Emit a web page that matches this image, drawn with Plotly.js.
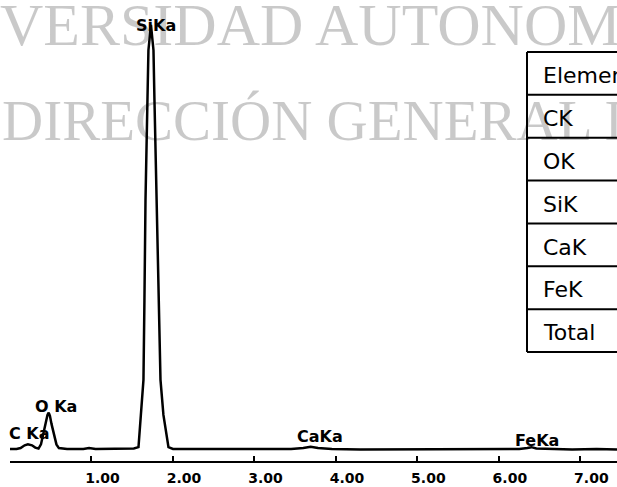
<!DOCTYPE html>
<html>
<head>
<meta charset="utf-8">
<script src="https://cdn.plot.ly/plotly-3.0.1.min.js"></script>
<style>html,body{margin:0;padding:0;background:#fff;}#chart{width:617px;height:487px;}</style>
</head>
<body>
<div id="chart"></div>
<script>
// Spectrum (energy in keV, relative counts)
const energy = [0.00, 0.08, 0.13, 0.18, 0.22, 0.27, 0.31, 0.35, 0.38, 0.41, 0.44, 0.46, 0.475, 0.49, 0.51, 0.54, 0.57, 0.60, 0.70, 0.90, 0.97, 1.05, 1.20, 1.40, 1.52, 1.577, 1.613, 1.638, 1.650, 1.663, 1.687, 1.699, 1.730, 1.761, 1.773, 1.798, 1.822, 1.847, 1.883, 1.945, 2.00, 2.30, 2.70, 3.10, 3.45, 3.60, 3.69, 3.78, 3.95, 4.30, 4.70, 5.10, 5.50, 5.90, 6.25, 6.35, 6.40, 6.46, 6.60, 6.90, 7.20, 7.45];
const counts = [26, 26, 28, 34, 36, 34, 29, 27, 36, 62, 88, 100, 105, 98, 80, 55, 36, 28, 26, 26, 28, 26, 26, 26, 27, 30, 110, 176, 349, 566, 783, 891, 946, 891, 783, 566, 349, 176, 100, 30, 26, 26, 26, 26, 26, 28, 31, 28, 26, 25, 25, 26, 25, 25, 26, 28, 30, 27, 26, 25, 26, 25];

// Peak labels
const peakLabels = ["C Ka", "O Ka", "SiKa", "CaKa", "FeKa"];
const peakEnergy = [0.24, 0.48, 1.73, 3.69, 6.40];
const peakLabelY = [433.5, 406.5, 25, 436.5, 440.5]; // pixel rows of labels

// Axis ticks
const tickVals = [1, 2, 3, 4, 5, 6, 7];
const tickText = ["1.00", "2.00", "3.00", "4.00", "5.00", "6.00", "7.00"];

// Results table (left column, visible part)
const tableRows = ["Element", "CK", "OK", "SiK", "CaK", "FeK", "Total"];

// Watermark
const watermark = ["VERSIDAD AUTONOM", "DIRECCIÓN GENERAL D"];

// ---- layout helpers (pixel -> paper) ----
const L = 10, T = 0, W = 607, H = 461;
const px = x => (x - L) / W;
const py = y => (T + H - y) / H;
const xr = [0, 7.45];

const annotations = [];
// watermark (translucent so black marks stay black)
const wmY = [25, 120];
const wmX = [-2, 0];
const wmSize = [60, 57];
watermark.forEach((t, i) => {
  annotations.push({xref: 'paper', yref: 'paper', x: px(wmX[i]), y: py(wmY[i]), xanchor: 'left', yanchor: 'middle',
    text: t, showarrow: false, font: {family: 'Liberation Serif', size: wmSize[i], color: 'rgba(0,0,0,0.21)'}});
});
// peak labels
const labelShift = [0, 7, 5, 9, 6];
peakLabels.forEach((t, i) => {
  annotations.push({xref: 'x', yref: 'paper', x: peakEnergy[i], xshift: labelShift[i], y: py(peakLabelY[i]),
    xanchor: 'center', yanchor: 'middle', text: t, showarrow: false,
    font: {family: 'DejaVu Sans', size: 16, color: '#000', weight: 'bold'}});
});

// table
const shapes = [];
const tTop = 52, rowH = 42.86, tLeft = 527;
const nRows = tableRows.length;
shapes.push({type: 'line', xref: 'paper', yref: 'paper', x0: px(tLeft), x1: px(tLeft), y0: py(tTop), y1: py(tTop + nRows * rowH), line: {color: '#000', width: 2}});
for (let i = 0; i <= nRows; i++) {
  const y = tTop + i * rowH;
  shapes.push({type: 'line', xref: 'paper', yref: 'paper', x0: px(tLeft), x1: px(640), y0: py(y), y1: py(y), line: {color: '#000', width: 2}});
}
tableRows.forEach((t, i) => {
  annotations.push({xref: 'paper', yref: 'paper', x: px(541), y: py(tTop + (i + 0.55) * rowH), xanchor: 'left', yanchor: 'middle',
    text: t, showarrow: false, font: {family: 'DejaVu Sans', size: 22, color: '#000'}});
});

const data = [{
  type: 'scatter', mode: 'lines', x: energy, y: counts,
  line: {color: '#000', width: 2.5}, hoverinfo: 'skip', cliponaxis: false
}];

const layout = {
  width: 617, height: 487,
  margin: {l: L, r: 0, t: T, b: 487 - H - T},
  paper_bgcolor: '#fff', plot_bgcolor: 'rgba(0,0,0,0)',
  showlegend: false,
  xaxis: {range: xr, showgrid: false, zeroline: false, showline: true, linecolor: '#000', linewidth: 2,
    ticks: 'inside', ticklen: 5, tickwidth: 2, tickcolor: '#000',
    tickvals: tickVals, ticktext: tickText, ticklabelshift: 11, ticklabelstandoff: 3,
    tickfont: {family: 'DejaVu Sans', size: 14, color: '#000', weight: 'bold'}},
  yaxis: {range: [0, 1000], visible: false, fixedrange: true},
  annotations: annotations,
  shapes: shapes
};

Plotly.newPlot('chart', data, layout, {staticPlot: true, displayModeBar: false});
</script>
</body>
</html>
